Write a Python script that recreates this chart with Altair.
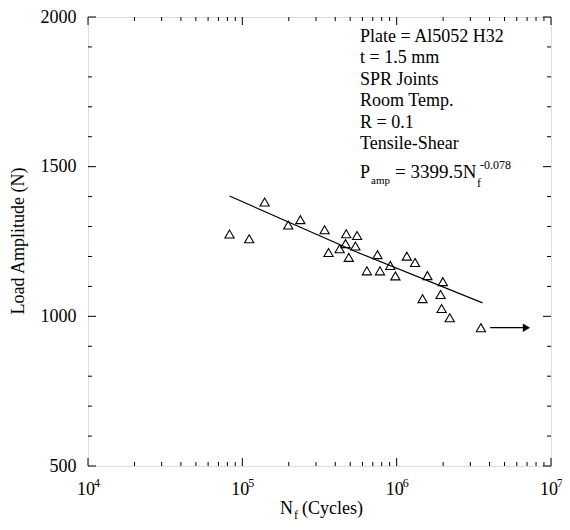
import altair as alt
import pandas as pd

# ---- data ----
nf = [82600, 110800, 139500, 198400, 237600, 341200, 361900, 471200, 553800,
      466500, 540200, 427100, 489600, 751300, 641200, 779400, 909000, 981000,
      1163000, 1315000, 1582000, 1992000, 1471000, 1926000, 1955000, 2208000, 3514000]
load = [1275, 1259, 1382, 1305, 1323, 1289, 1213, 1276, 1270,
        1243, 1235, 1226, 1197, 1206, 1152, 1152, 1170, 1135,
        1201, 1180, 1136, 1116, 1059, 1073, 1026, 995, 962]

fit_nf = [82600, 550000, 3600000]
fit_load = [1402, 1215, 1045]

arrow_nf = [4030000, 7000000]
arrow_load = [962, 962]
arrow_head_nf = [6930000]

y_major = [500, 1000, 1500, 2000]
y_minor = [v for v in range(600, 2000, 100) if v not in y_major]
x_major = [1e4, 1e5, 1e6, 1e7]
x_exp = ["4", "5", "6", "7"]
x_minor = [k * 10 ** d for d in (4, 5, 6) for k in range(2, 10)]

note_lines = ["Plate = Al5052 H32", "t = 1.5 mm", "SPR Joints",
              "Room Temp.", "R = 0.1", "Tensile-Shear"]

W, H = 463, 449
FONT = "Liberation Serif"
FS = 18

xs = alt.Scale(type="log", domain=[1e4, 1e7])
ys = alt.Scale(domain=[500, 2000])

pts_df = pd.DataFrame({"nf": nf, "load": load})
fit_df = pd.DataFrame({"nf": fit_nf, "load": fit_load})
arr_df = pd.DataFrame({"nf": arrow_nf, "load": arrow_load})
head_df = pd.DataFrame({"nf": arrow_head_nf, "load": [arrow_load[0]]})

yaxis = alt.Axis(values=y_major, labelFont=FONT, labelFontSize=FS, labelColor="black",
                 ticks=False, domain=False, grid=False, title=None, labelPadding=12,
                 format="d")
xaxis = alt.Axis(labels=False, ticks=False, domain=False, grid=False, title=None)

points = alt.Chart(pts_df).mark_point(shape="triangle-up", size=85, filled=False,
                                      color="black", strokeWidth=1.1, opacity=1).encode(
    x=alt.X("nf:Q", scale=xs, axis=xaxis),
    y=alt.Y("load:Q", scale=ys, axis=yaxis),
)

fit = alt.Chart(fit_df).mark_line(color="black", strokeWidth=1.2).encode(
    x=alt.X("nf:Q", scale=xs), y=alt.Y("load:Q", scale=ys))

arrow = alt.Chart(arr_df).mark_line(color="black", strokeWidth=1.2).encode(
    x=alt.X("nf:Q", scale=xs), y=alt.Y("load:Q", scale=ys))

head = alt.Chart(head_df).mark_point(shape="triangle-right", size=70, filled=True,
                                     color="black", opacity=1).encode(
    x=alt.X("nf:Q", scale=xs), y=alt.Y("load:Q", scale=ys))

# ---- inward ticks on all four sides ----
def yticks(vals, x0, x1):
    return alt.Chart(pd.DataFrame({"v": vals})).mark_rule(color="black", strokeWidth=1).encode(
        y=alt.Y("v:Q", scale=ys), x=alt.value(x0), x2=alt.value(x1))

def xticks(vals, y0, y1):
    return alt.Chart(pd.DataFrame({"v": vals})).mark_rule(color="black", strokeWidth=1).encode(
        x=alt.X("v:Q", scale=xs), y=alt.value(y0), y2=alt.value(y1))

tick_layers = [
    yticks(y_major, 0, 8), yticks(y_minor, 0, 4),
    yticks(y_major, W - 8, W), yticks(y_minor, W - 4, W),
    xticks(x_major, H, H - 8), xticks(x_minor, H, H - 4),
    xticks(x_major, 0, 8), xticks(x_minor, 0, 4),
]

# ---- x tick labels 10^n ----
xlab_df = pd.DataFrame({"v": x_major, "e": x_exp})
xlab10 = alt.Chart(xlab_df).mark_text(text="10", font=FONT, fontSize=FS, color="black",
                                      align="center", baseline="alphabetic", dx=-2).encode(
    x=alt.X("v:Q", scale=xs), y=alt.value(H + 29))
xlabexp = alt.Chart(xlab_df).mark_text(font=FONT, fontSize=12, color="black",
                                       align="left", baseline="alphabetic", dx=6).encode(
    x=alt.X("v:Q", scale=xs), y=alt.value(H + 21), text="e:N")

# ---- text helper ----
def txt(s, x, y, size=FS, align="left"):
    return alt.Chart(pd.DataFrame({"t": [0]})).mark_text(
        text=s, font=FONT, fontSize=size, color="black", align=align,
        baseline="alphabetic").encode(x=alt.value(x), y=alt.value(y))

title_layers = [
    txt("N", 192, H + 48),
    txt("f", 206, H + 53, size=12),
    txt("(Cycles)", 214, H + 48),
    alt.Chart(pd.DataFrame({"t": [0]})).mark_text(
        text="Load Amplitude (N)", font=FONT, fontSize=FS, color="black",
        align="center", baseline="middle", angle=270).encode(
        x=alt.value(-69), y=alt.value(224)),
]

# ---- annotation block ----
note_layers = [txt(s, 272, 25 + i * 21.4) for i, s in enumerate(note_lines)]
note_layers += [
    txt("P", 272, 161),
    txt("amp", 283, 167, size=11),
    txt("= 3399.5N", 307, 161, size=19),
    txt("f", 389, 170, size=12),
    txt("-0.078", 392, 152, size=12),
]

chart = alt.layer(
    fit, arrow, head, points, *tick_layers, xlab10, xlabexp, *title_layers, *note_layers
).properties(
    width=W, height=H,
    autosize=alt.AutoSizeParams(type="none"),
    padding={"left": 80, "top": 9, "right": 11, "bottom": 56},
).configure_view(stroke="black", strokeWidth=1.2).configure(background="white")

chart.save("out.html", embed_options={"renderer": "svg", "actions": False})
